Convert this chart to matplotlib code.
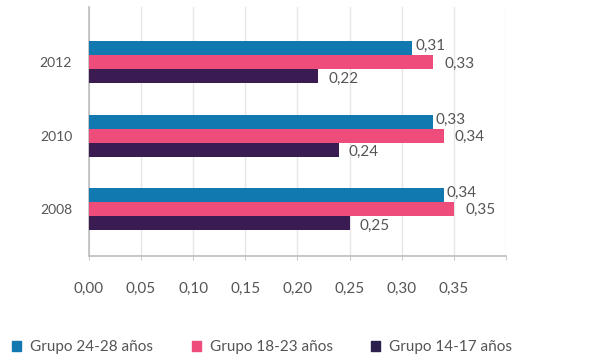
import matplotlib
matplotlib.use("Agg")
import matplotlib.pyplot as plt
import numpy as np
from matplotlib.patches import Patch

years = ["2008", "2010", "2012"]
series_names = ["Grupo 24-28 años", "Grupo 18-23 años", "Grupo 14-17 años"]
g24_28 = [0.34, 0.33, 0.31]
g18_23 = [0.35, 0.34, 0.33]
g14_17 = [0.25, 0.24, 0.22]
xticks = [0.00, 0.05, 0.10, 0.15, 0.20, 0.25, 0.30, 0.35]

colors = ["#1279b0", "#ee4d7c", "#3a1c52"]
legend_colors = ["#1279b0", "#ee4d7c", "#2b1f4e"]
txt_color = "#555555"

plt.rcParams["font.family"] = ["Lato", "DejaVu Sans"]

fig = plt.figure(figsize=(5.92, 3.6), dpi=100)
ax = fig.add_axes([0.150, 0.289, 0.705, 0.691])

y = np.arange(len(years))
h = 0.19
data = [g24_28, g18_23, g14_17]
offsets = [h, 0, -h]
label_dx = [2, 8, 7]
label_dy = [1.5, -1, -2]
for vals, off, c, dx, dy in zip(data, offsets, colors, label_dx, label_dy):
    bars = ax.barh(y + off, vals, height=h, color=c, zorder=3)
    for b, v in zip(bars, vals):
        ax.annotate(f"{v:.2f}".replace(".", ","),
                    (b.get_width(), b.get_y() + b.get_height() / 2),
                    xytext=(dx, dy), textcoords="offset points",
                    ha="left", va="center", fontsize=11, color=txt_color)

ax.set_xlim(0, 0.40)
ax.set_ylim(-0.64, 2.75)
ax.set_xticks(xticks + [0.40])
ax.set_xticklabels([f"{t:.2f}".replace(".", ",") for t in xticks] + [""],
                   fontsize=11, color=txt_color)
ax.set_yticks(y)
ax.set_yticklabels(years, fontsize=10, color=txt_color)
ax.tick_params(axis="x", length=3, color="#cccccc", pad=16)
ax.tick_params(axis="y", length=0, pad=12)
ax.grid(axis="x", color="#e6e6e6", linewidth=1, zorder=0)
for s in ["top", "right"]:
    ax.spines[s].set_visible(False)
for s in ["left", "bottom"]:
    ax.spines[s].set_color("#bdbdbd")
    ax.spines[s].set_linewidth(1.2)

handles = [Patch(color=c, label=n) for c, n in zip(legend_colors, series_names)]
fig.legend(handles=handles, loc="center left", bbox_to_anchor=(-0.003, 0.036),
           ncol=3, frameon=False, fontsize=11, handlelength=0.6, handleheight=0.6,
           handletextpad=0.6, columnspacing=2.5, labelcolor=txt_color)

fig.savefig("out.png", dpi=100)
